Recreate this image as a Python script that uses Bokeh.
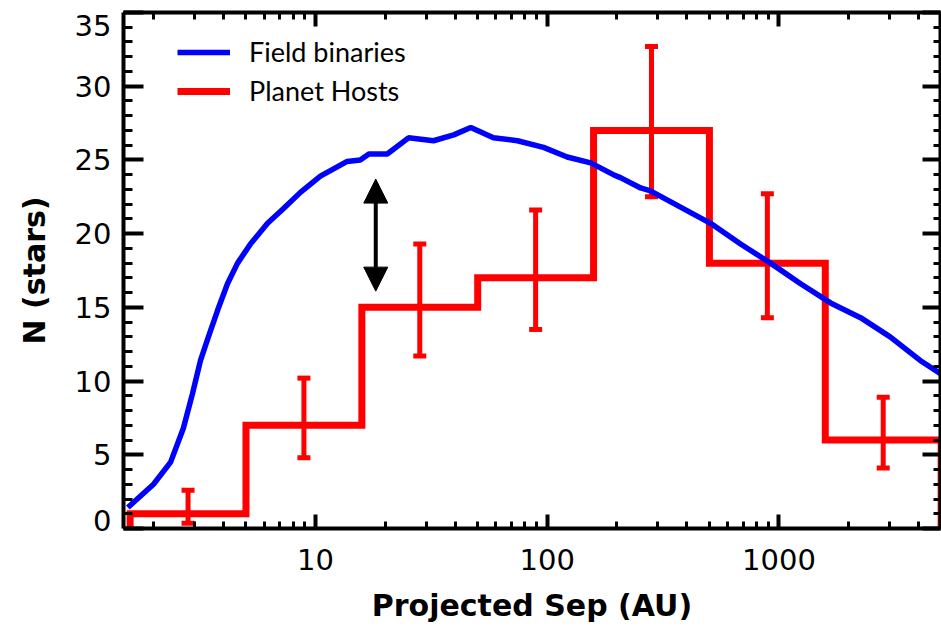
import numpy as np
from bokeh.plotting import figure
from bokeh.models import (Range1d, LogAxis, LinearAxis, FixedTicker,
                          Whisker, TeeHead, Arrow, NormalHead, ColumnDataSource, Legend,
                          CustomJSTickFormatter, BasicTickFormatter)
from bokeh.embed import file_html
from bokeh.resources import INLINE

# ---------------- data ----------------
bin_edges = [1.585, 5.012, 15.85, 50.12, 158.5, 501.2, 1585, 5012]
counts = [1, 7, 15, 17, 27, 18, 6]
err_upper = [2.6, 10.2, 19.3, 21.6, 32.7, 22.7, 8.9]
err_lower = [0.35, 4.8, 11.7, 13.5, 22.5, 14.3, 4.1]

field_sep = [1.55, 2.0, 2.37, 2.69, 2.94, 3.19, 3.45, 3.78, 4.17, 4.61, 5.24, 6.21, 7.28, 8.61,
             10.5, 13.7, 15.6, 17.0, 20.4, 25.2, 32.3, 39.5, 46.8, 58.6, 74.4, 96.4, 122,
             154, 193, 207, 253, 279, 376, 507, 683, 920, 1240, 1670, 2250, 3020, 4070, 4980]
field_n = [1.42, 3.0, 4.5, 6.8, 9.1, 11.4, 13.0, 14.8, 16.6, 18.0, 19.3, 20.7, 21.7, 22.8,
           23.9, 24.9, 25.0, 25.4, 25.4, 26.5, 26.3, 26.7, 27.2, 26.5, 26.3, 25.85, 25.2,
           24.8, 24.0, 23.8, 23.1, 22.9, 21.8, 20.7, 19.3, 18.0, 16.6, 15.3, 14.3, 13.0, 11.4, 10.5]

arrow_sep = 18.2
arrow_low = 16.1
arrow_high = 23.7

x_major_ticks = [10, 100, 1000]
y_major_ticks = [0, 5, 10, 15, 20, 25, 30, 35]
y_tick_labels = ["0", "5", "10", "15", "20", "25", "30", "35"]
# where each y tick label sits (end labels are nudged inside the frame, as in the reference)
y_label_pos = [0.55, 5, 10, 15, 20, 25, 30, 34.1]

# ---------------- figure ----------------
p = figure(width=941, height=627, x_axis_type="log",
           x_range=Range1d(1.484, 4980), y_range=Range1d(0, 35),
           output_backend="svg", toolbar_location=None,
           min_border_left=123, min_border_right=1, min_border_top=12, min_border_bottom=99)
p.xgrid.visible = False
p.ygrid.visible = False
p.outline_line_color = None
p.background_fill_color = "white"
p.border_fill_color = "white"

# step histogram path built from bin edges/counts
hx = [bin_edges[0]]
hy = [0]
for i, c in enumerate(counts):
    hx += [bin_edges[i], bin_edges[i + 1]]
    hy += [c, c]
hx.append(bin_edges[-1])
hy.append(0)

red = p.line(hx, hy, line_color="#ff0000", line_width=7, line_join="miter")
blue = p.line(field_sep, field_n, line_color="#0000ff", line_width=5.5)

centers = [float(np.sqrt(bin_edges[i] * bin_edges[i + 1])) for i in range(len(counts))]
src = ColumnDataSource(dict(base=centers, upper=err_upper, lower=err_lower))
wh = Whisker(base="base", upper="upper", lower="lower", source=src,
             line_color="#ff0000", line_width=5,
             upper_head=TeeHead(size=13, line_color="#ff0000", line_width=5),
             lower_head=TeeHead(size=13, line_color="#ff0000", line_width=5))
p.add_layout(wh)

arr = Arrow(start=NormalHead(size=24, fill_color="black", line_color="black"),
            end=NormalHead(size=24, fill_color="black", line_color="black"),
            x_start=arrow_sep, y_start=arrow_low, x_end=arrow_sep, y_end=arrow_high,
            line_width=4, line_color="black")
p.add_layout(arr)

# ---------------- axes ----------------
x_minor = [m * 10 ** k for k in range(0, 4) for m in range(2, 10)]
xt = FixedTicker(ticks=x_major_ticks, minor_ticks=x_minor)
yt = FixedTicker(ticks=y_major_ticks, minor_ticks=list(range(0, 36)))
empty = CustomJSTickFormatter(code="return ''")

TICK_FONT = "DejaVu Sans"
TICK_SIZE = "29px"

def style(ax, major_in, minor_in):
    ax.axis_line_width = 4
    ax.axis_line_color = "black"
    ax.major_tick_in = major_in
    ax.major_tick_out = 0
    ax.minor_tick_in = minor_in
    ax.minor_tick_out = 0
    ax.major_tick_line_width = 4
    ax.minor_tick_line_width = 3
    ax.major_tick_line_color = "black"
    ax.minor_tick_line_color = "black"
    ax.major_label_text_font = TICK_FONT
    ax.major_label_text_font_size = TICK_SIZE
    ax.major_label_text_color = "black"
    ax.axis_label_text_font = "DejaVu Sans"
    ax.axis_label_text_font_size = "30px"
    ax.axis_label_text_font_style = "bold"
    ax.axis_label_text_color = "black"

xa = p.xaxis[0]
xa.ticker = xt
xa.formatter = BasicTickFormatter()
xa.axis_label = "Projected Sep (AU)"
style(xa, 14, 7)
xa.major_label_standoff = 20
xa.axis_label_standoff = 15

# left: tick-only axis next to the frame
ya = p.yaxis[0]
ya.ticker = yt
ya.formatter = empty
style(ya, 20, 9)
ya.major_label_standoff = 0

# left: label-only axis (no line, no ticks) carrying tick labels and the title
yl = LinearAxis(ticker=FixedTicker(ticks=y_label_pos, minor_ticks=[]),
                major_label_overrides={pos: lab for pos, lab in zip(y_label_pos, y_tick_labels)})
style(yl, 0, 0)
yl.axis_line_color = None
yl.major_tick_line_color = None
yl.minor_tick_line_color = None
yl.major_label_standoff = 12
yl.axis_label = "N (stars)"
yl.axis_label_standoff = 20
p.add_layout(yl, "left")

top = LogAxis(ticker=xt, formatter=empty, major_label_standoff=0)
style(top, 14, 7)
p.add_layout(top, "above")

right = LinearAxis(ticker=yt, formatter=empty, major_label_standoff=0)
style(right, 18, 7)
p.add_layout(right, "right")

# ---------------- legend ----------------
leg = Legend(items=[("Field binaries", [blue]), ("Planet Hosts", [red])],
             location=(54, 421), padding=0, margin=0, spacing=6,
             glyph_width=53, glyph_height=30, label_height=30, label_standoff=19,
             label_text_font="Lato", label_text_font_size="27px", label_text_color="black",
             border_line_color=None, background_fill_alpha=0)
p.add_layout(leg)

open("out.html", "w").write(file_html(p, INLINE))
